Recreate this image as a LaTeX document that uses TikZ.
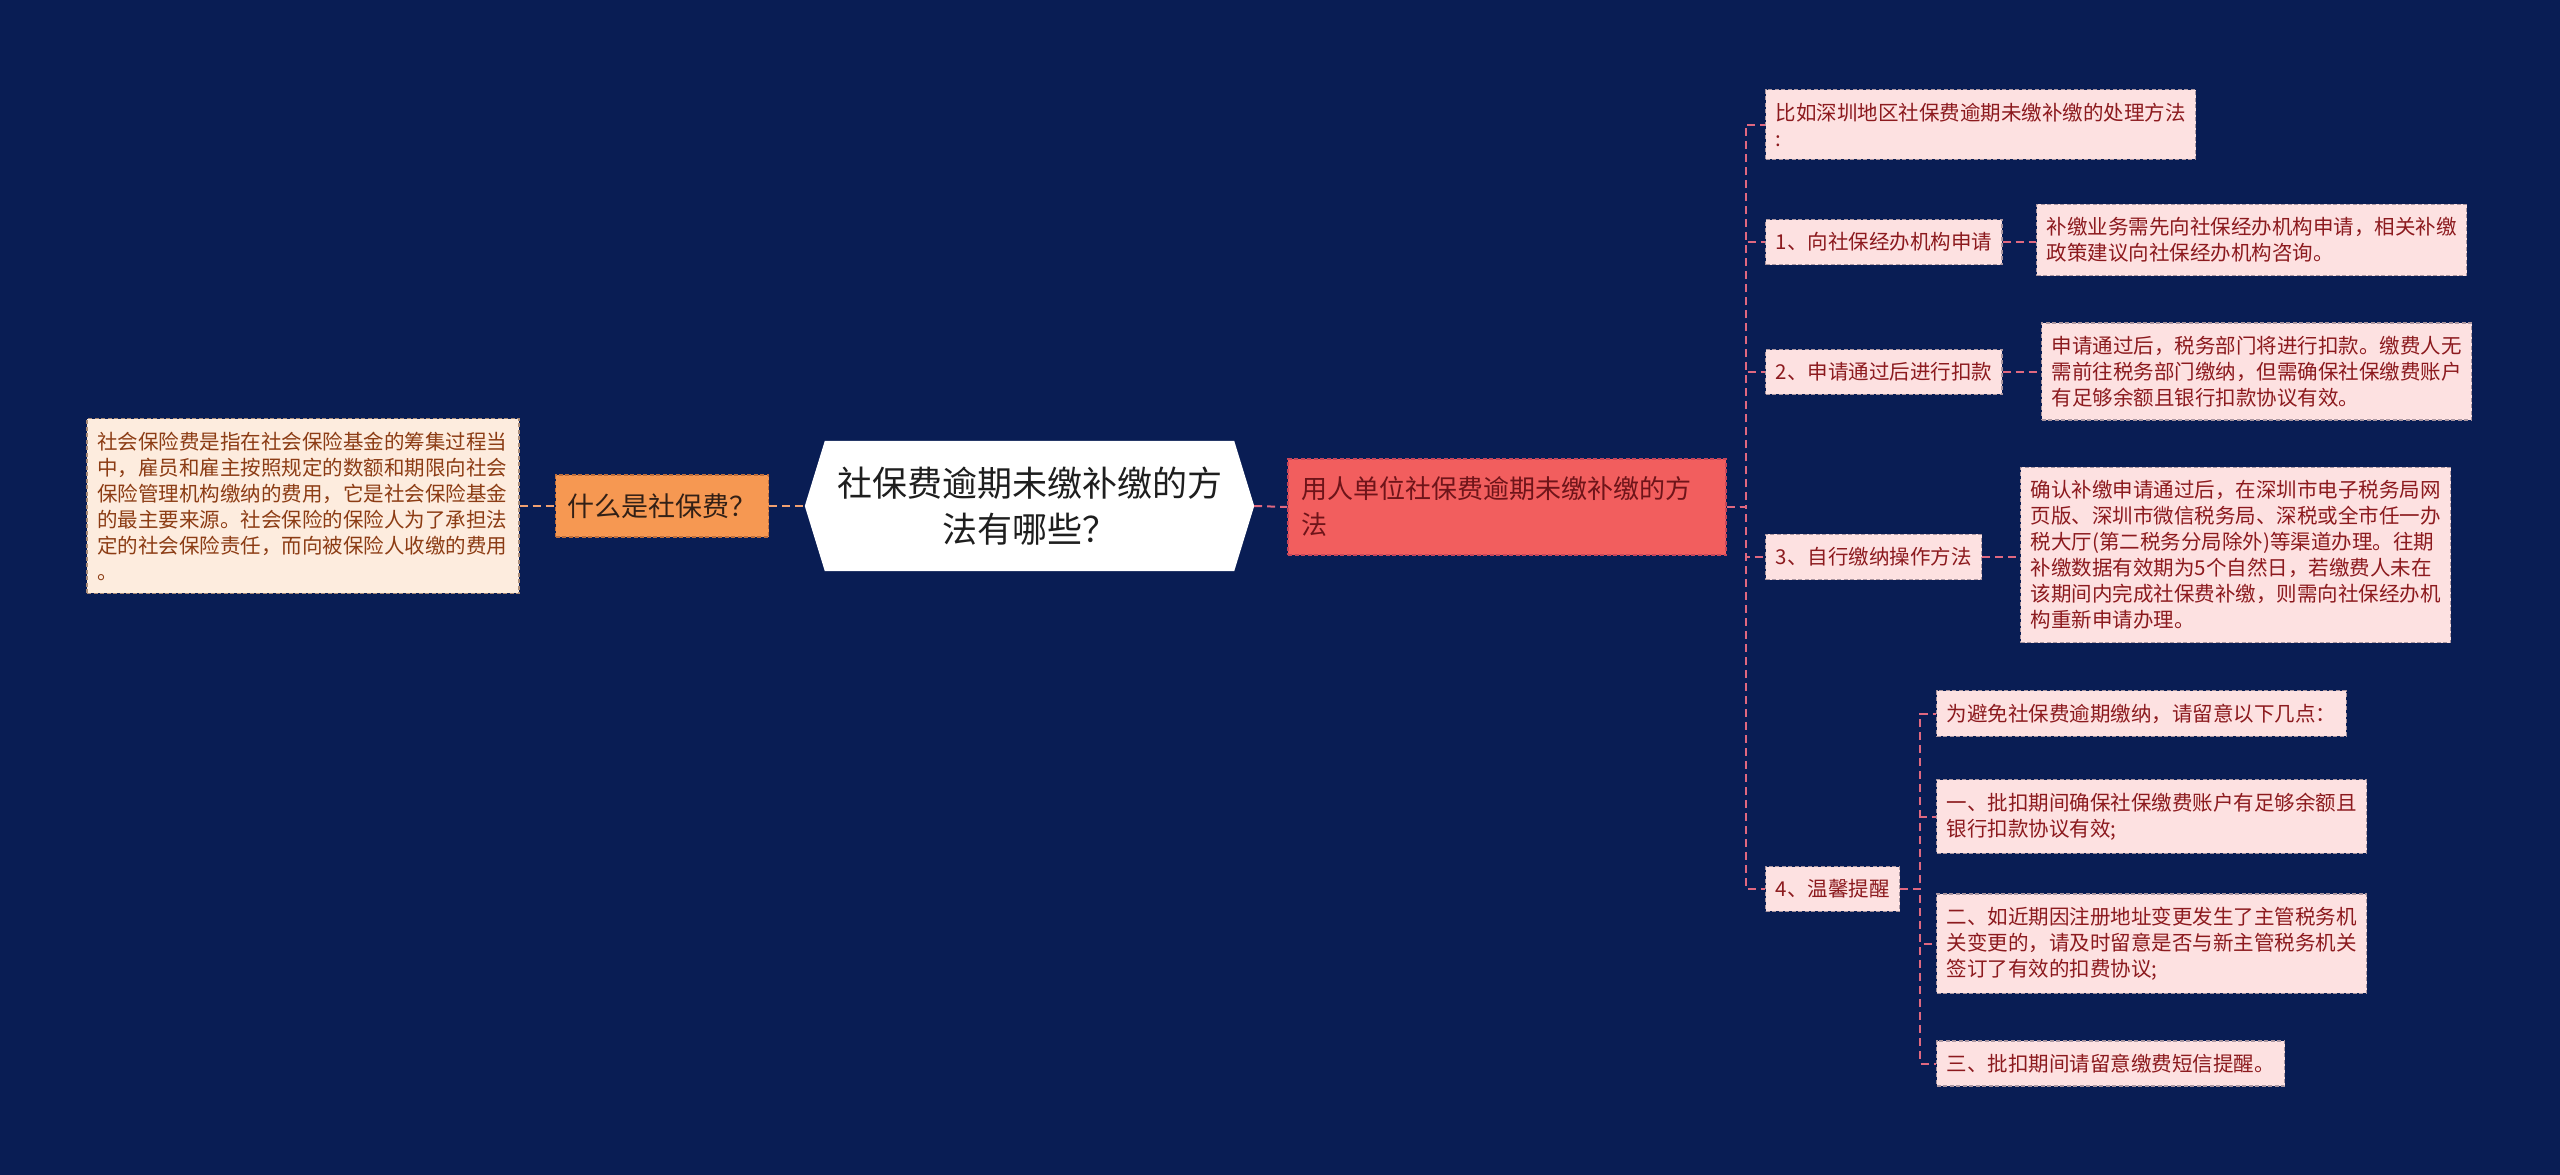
\documentclass[tikz,border=0pt]{standalone}
\usepackage{fontspec}
\setmainfont{Noto Sans CJK SC}
\usetikzlibrary{backgrounds,calc}
\definecolor{bg}{RGB}{9,29,84}
\definecolor{ldfill}{RGB}{253,236,222}
\definecolor{ldborder}{RGB}{170,140,120}
\definecolor{ldtext}{RGB}{140,60,20}
\definecolor{orfill}{RGB}{246,152,82}
\definecolor{orborder}{RGB}{190,110,60}
\definecolor{ortext}{RGB}{50,32,22}
\definecolor{rdfill}{RGB}{242,94,94}
\definecolor{rdborder}{RGB}{200,70,90}
\definecolor{rdtext}{RGB}{110,20,25}
\definecolor{pkfill}{RGB}{253,225,225}
\definecolor{pkborder}{RGB}{170,150,160}
\definecolor{pktext}{RGB}{140,26,30}
\definecolor{cttext}{RGB}{30,30,30}
\definecolor{lline}{RGB}{240,160,112}
\definecolor{rline}{RGB}{224,104,128}
\tikzset{
  conn/.style={line width=2pt, dash pattern=on 8pt off 5pt},
  lconn/.style={conn, draw=lline},
  rconn/.style={conn, draw=rline},
  box/.style={line width=1.3pt, dash pattern=on 4pt off 2.5pt, align=left, inner xsep=10pt, inner ysep=13pt},
  small/.style={font=\fontsize{20.5}{26}\selectfont},
  ldetail/.style={box, small, fill=ldfill, draw=ldborder, text=ldtext},
  pinkbox/.style={box, small, fill=pkfill, draw=pkborder, text=pktext, anchor=west},
  orangebox/.style={box, fill=orfill, draw=orborder, text=ortext, font=\fontsize{27}{36}\selectfont, inner xsep=12pt, inner ysep=15pt, minimum width=210pt, minimum height=62pt},
  redbox/.style={box, fill=rdfill, draw=rdborder, text=rdtext, font=\fontsize{26}{36}\selectfont, inner xsep=13pt, inner ysep=17pt, minimum height=96pt},
  hexnode/.style={align=center, text=cttext, font=\fontsize{35}{46}\selectfont, minimum width=409pt, minimum height=130pt, inner sep=0pt},
}
\begin{document}
\begin{tikzpicture}[x=1pt,y=-1pt]
\useasboundingbox (0,0) rectangle (2560,1175);
\begin{scope}[on background layer]
\fill[bg] (0,0) rectangle (2560,1175);
\end{scope}

% center
\node[hexnode] (c) at (1029.5,506) {社保费逾期未缴补缴的方\\法有哪些？};
\begin{scope}[on background layer]
\fill[white] (c.north west) -- (c.north east) -- ($(c.east)+(20,0)$) -- (c.south east) -- (c.south west) -- ($(c.west)+(-20,0)$) -- cycle;
\end{scope}
\coordinate (cW) at ($(c.west)+(-20,0)$);
\coordinate (cE) at ($(c.east)+(20,0)$);

% left
\node[orangebox] (q) at (662,506) {什么是社保费？};
\node[ldetail, text width=412pt] (ld) at (303,506) {社会保险费是指在社会保险基金的筹集过程当\\中，雇员和雇主按照规定的数额和期限向社会\\保险管理机构缴纳的费用，它是社会保险基金\\的最主要来源。社会保险的保险人为了承担法\\定的社会保险责任，而向被保险人收缴的费用\\。};

% right main
\node[redbox, text width=412pt] (r) at (1507,507) {用人单位社保费逾期未缴补缴的方\\法};

% level 2
\node[pinkbox] (n0) at (1765,124.5) {比如深圳地区社保费逾期未缴补缴的处理方法\\:};
\node[pinkbox] (n1) at (1765,242) {1、向社保经办机构申请};
\node[pinkbox] (n2) at (1765,372) {2、申请通过后进行扣款};
\node[pinkbox] (n3) at (1765,557) {3、自行缴纳操作方法};
\node[pinkbox] (n4) at (1765,889) {4、温馨提醒};

% level 3
\node[pinkbox] (d1) at (2036,240) {补缴业务需先向社保经办机构申请，相关补缴\\政策建议向社保经办机构咨询。};
\node[pinkbox] (d2) at (2041,371.5) {申请通过后，税务部门将进行扣款。缴费人无\\需前往税务部门缴纳，但需确保社保缴费账户\\有足够余额且银行扣款协议有效。};
\node[pinkbox] (d3) at (2020,555) {确认补缴申请通过后，在深圳市电子税务局网\\页版、深圳市微信税务局、深税或全市任一办\\税大厅(第二税务分局除外)等渠道办理。往期\\补缴数据有效期为5个自然日，若缴费人未在\\该期间内完成社保费补缴，则需向社保经办机\\构重新申请办理。};
\node[pinkbox] (s0) at (1936,713.5) {为避免社保费逾期缴纳，请留意以下几点：};
\node[pinkbox] (s1) at (1936,816.5) {一、批扣期间确保社保缴费账户有足够余额且\\银行扣款协议有效;};
\node[pinkbox] (s2) at (1936,943.5) {二、如近期因注册地址变更发生了主管税务机\\关变更的，请及时留意是否与新主管税务机关\\签订了有效的扣费协议;};
\node[pinkbox] (s3) at (1936,1063.5) {三、批扣期间请留意缴费短信提醒。};

% connectors left
\draw[lconn] (ld.east) -- (q.west);
\draw[lconn] (q.east) -- (cW);
% connectors right
\draw[rconn] (cE) -- (r.west);
\foreach \n in {n0,n1,n2,n3,n4}{
  \draw[rconn] (r.east) -- ++(19,0) |- (\n.west);
}
\draw[rconn] (n1.east) -- (n1.east -| d1.west);
\draw[rconn] (n2.east) -- (n2.east -| d2.west);
\draw[rconn] (n3.east) -- (n3.east -| d3.west);
\foreach \s in {s0,s1,s2,s3}{
  \draw[rconn] (n4.east) -- ++(20,0) |- (\s.west);
}
\end{tikzpicture}
\end{document}
